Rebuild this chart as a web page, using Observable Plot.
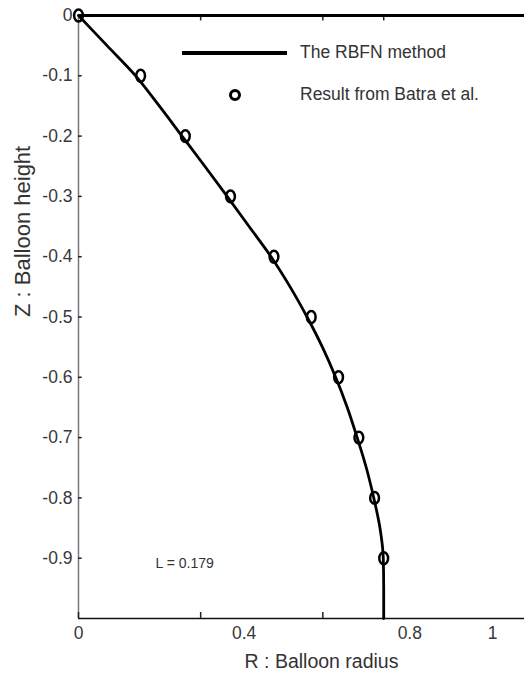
<!DOCTYPE html>
<html>
<head>
<meta charset="utf-8">
<script src="https://cdn.jsdelivr.net/npm/d3@7"></script>
<script src="https://cdn.jsdelivr.net/npm/@observablehq/plot@0.6"></script>
<style>
  html, body { margin: 0; padding: 0; background: #fff; }
  #wrap { position: relative; width: 524px; height: 681px; overflow: hidden; font-family: "Liberation Sans", Arial, sans-serif; }
  .leg { position: absolute; color: #333; font-size: 17.5px; white-space: nowrap; line-height: 1; }
</style>
</head>
<body>
<div id="wrap"></div>
<script>
// RBFN method curve: Z (balloon height) vs R (balloon radius)
const zCurve = [0, -0.05, -0.1, -0.15, -0.2, -0.25, -0.3, -0.35, -0.4, -0.45, -0.5, -0.55, -0.6, -0.65, -0.7, -0.75, -0.8, -0.85, -0.9, -0.95, -1.0];
const rCurve = [0, 0.069, 0.138, 0.195, 0.250, 0.305, 0.359, 0.412, 0.465, 0.511, 0.552, 0.589, 0.621, 0.649, 0.673, 0.695, 0.713, 0.728, 0.736, 0.737, 0.737];

// Result from Batra et al. (circles)
const zBatra = [0, -0.1, -0.2, -0.3, -0.4, -0.5, -0.6, -0.7, -0.8, -0.9];
const rBatra = [0, 0.150, 0.258, 0.367, 0.472, 0.562, 0.628, 0.677, 0.715, 0.737];

// Axis ticks
const yTickValues = [0, -0.1, -0.2, -0.3, -0.4, -0.5, -0.6, -0.7, -0.8, -0.9];
const xTickValues = [0, 0.4, 0.8, 1];
const xTickMarksBottom = [0, 0.295, 0.59];
const xTickMarksTop = [0.295, 0.59, 0.737];

const seriesNames = ["The RBFN method", "Result from Batra et al."];
const annotation = "L = 0.179";

const curve = zCurve.map((z, i) => ({r: rCurve[i], z}));
const batra = zBatra.map((z, i) => ({r: rBatra[i], z}));

// slightly tall open marker, as in the reference
const ellipse = {
  draw(ctx, size) {
    const r = Math.sqrt(size / Math.PI), rx = r, ry = r * 1.35, k = 0.5523;
    ctx.moveTo(rx, 0);
    ctx.bezierCurveTo(rx, ry * k, rx * k, ry, 0, ry);
    ctx.bezierCurveTo(-rx * k, ry, -rx, ry * k, -rx, 0);
    ctx.bezierCurveTo(-rx, -ry * k, -rx * k, -ry, 0, -ry);
    ctx.bezierCurveTo(rx * k, -ry, rx, -ry * k, rx, 0);
    ctx.closePath();
  }
};

const fmt = d => d === 0 ? "0" : String(d);

const chart = Plot.plot({
  width: 524,
  height: 681,
  marginLeft: 78,
  marginRight: 0,
  marginTop: 15,
  marginBottom: 63,
  x: {domain: [0, 1.077]},
  y: {domain: [-1, 0]},
  style: {fontFamily: "'Liberation Sans', Arial, sans-serif", fontSize: "17px", color: "#383838", background: "#fff", overflow: "visible"},
  marks: [
    Plot.axisY({ticks: yTickValues, tickSize: 0, tickPadding: 6, tickFormat: fmt, label: null, fontSize: 17.5}),
    Plot.axisX({ticks: xTickValues, tickSize: 0, tickPadding: 8, tickFormat: fmt, label: null, fontSize: 17.5}),
    Plot.ruleX([0], {stroke: "#777", strokeWidth: 1.5}),
    Plot.ruleY([-1], {stroke: "#111", strokeWidth: 1.6}),
    Plot.ruleY(yTickValues, {x1: 0, x2: 0.009, stroke: "#222", strokeWidth: 1.5}),
    Plot.ruleX(xTickMarksBottom, {y1: -1, y2: -0.99, stroke: "#222", strokeWidth: 1.5}),
    Plot.ruleX(xTickMarksTop, {y1: 0, y2: -0.009, stroke: "#222", strokeWidth: 1.5}),
    Plot.ruleY([0], {stroke: "#000", strokeWidth: 3.2}),
    Plot.line(curve, {x: "r", y: "z", curve: "monotone-y", stroke: "#000", strokeWidth: 2.8}),
    Plot.dot(batra, {x: "r", y: "z", r: 4.4, symbol: ellipse, stroke: "#000", strokeWidth: 2.5, fill: "none"}),
    Plot.text([annotation], {frameAnchor: "bottom-left", dx: 77, dy: -51, textAnchor: "start", fontSize: 14, fill: "#333"}),
    Plot.text(["R : Balloon radius"], {frameAnchor: "bottom", dx: 20, dy: 49, fontSize: 19.5, fill: "#333"}),
    Plot.text(["Z : Balloon height"], {frameAnchor: "left", dx: -56, rotate: -90, fontSize: 22, fill: "#333"})
  ]
});

const wrap = document.getElementById("wrap");
wrap.appendChild(chart);

// In-plot legend (top right), drawn as an overlay
const legend = [
  {name: seriesNames[0], kind: "line", top: 53},
  {name: seriesNames[1], kind: "dot", top: 95}
];
for (const item of legend) {
  if (item.kind === "line") {
    const sw = document.createElement("div");
    sw.style.cssText = `position:absolute;left:182px;top:${item.top - 2}px;width:105px;height:4px;background:#000;`;
    wrap.appendChild(sw);
  } else {
    const sw = document.createElement("div");
    sw.style.cssText = `position:absolute;left:${235 - 6}px;top:${item.top - 6}px;width:6px;height:6px;border:3px solid #000;border-radius:50%;`;
    wrap.appendChild(sw);
  }
  const t = document.createElement("div");
  t.className = "leg";
  t.textContent = item.name;
  t.style.left = "300px";
  t.style.top = (item.top - 9) + "px";
  wrap.appendChild(t);
}
</script>
</body>
</html>
